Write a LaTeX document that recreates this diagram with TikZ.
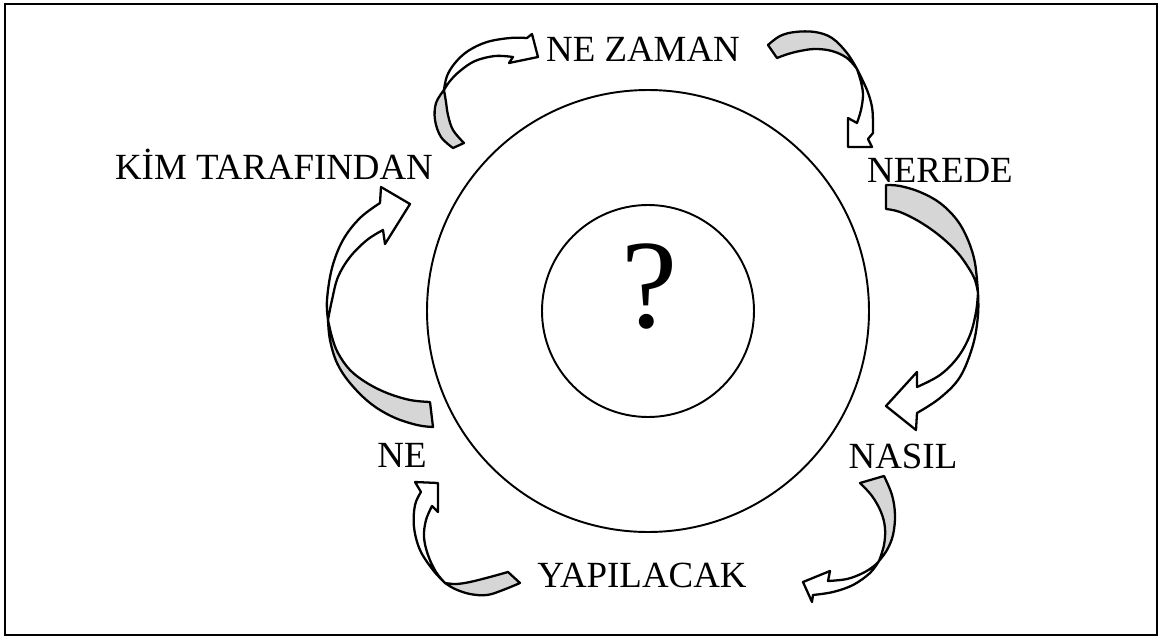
\documentclass[tikz,border=0pt]{standalone}
\usepackage{fontspec}
\setmainfont{Liberation Serif}
\begin{document}
\begin{tikzpicture}[x=0.02cm,y=-0.02cm,
  band/.style={draw=black, line width=1.3pt, line join=round, fill=black!16},
  front/.style={draw=black, line width=1.3pt, line join=round, fill=white},
  lbl/.style={font=\fontsize{21}{21}\selectfont, anchor=base, inner sep=0pt},
  ring/.style={draw=black, line width=1.1pt},
  sm/.style={smooth, tension=0.6}]
\useasboundingbox (0,0) rectangle (1161,639);
\draw[line width=1.4pt] (5,4) rectangle (1157,635);

% circles
\coordinate (c) at (648,311);
\draw[ring] (c) circle[radius=221];
\draw[ring] (c) circle[radius=106];
\node[inner sep=0pt, font=\fontsize{72}{72}\selectfont] (q) at (650,287) {?};

% labels
\node[lbl] (nezaman) at (643,61) {NE ZAMAN};
\node[lbl] (nerede) at (940,182) {NEREDE};
\node[lbl] (nasil) at (903,468) {NASIL};
\node[lbl] (yap) at (642,587) {YAPILACAK};
\node[lbl] (ne) at (402,467) {NE};
\node[lbl] (kim) at (274,179) {KİM TARAFINDAN};

% arrow 1: KIM -> NE ZAMAN
\path[band] plot[sm] coordinates {(453,148) (441,137) (435,120) (436,103) (444,90)}
  -- plot[sm] coordinates {(444,90) (446,102) (448,115) (453,130) (464,143)} -- cycle;
\path[front] plot[sm] coordinates {(444,90) (447,76) (455,63) (468,51) (487,42) (510,38) (527,38)}
  -- (532,34) -- (538,57) -- (509,63) -- (513,57)
  -- plot[sm] coordinates {(513,57) (495,56) (475,61) (460,71) (450,81) (444,90)} -- cycle;

% arrow 2: NE ZAMAN -> NEREDE
\path[band] plot[sm] coordinates {(768,45) (780,36) (795,32) (815,32) (832,38) (847,53) (857,69)}
  -- plot[sm] coordinates {(857,69) (847,58) (832,51) (815,49) (800,51) (788,54) (777,58)} -- cycle;
\path[front] plot[sm] coordinates {(857,69) (867,90) (872,107) (873,123) (873,133)}
  -- (868,139) -- (872,147) -- (848,147) -- (848,118) -- (857,123)
  -- plot[sm] coordinates {(857,123) (861,110) (863,95) (861,82) (857,69)} -- cycle;

% arrow 3: NEREDE -> NASIL
\path[band] plot[sm] coordinates {(886,185) (900,186) (920,192) (940,203) (957,220) (968,240) (975,263) (978,293)}
  -- plot[sm] coordinates {(978,293) (975,280) (968,267) (957,252) (940,236) (920,222) (900,212) (886,209)} -- cycle;
\path[front] plot[sm] coordinates {(978,293) (978,315) (973,345) (960,377) (940,398) (917,413)}
  -- (916,430) -- (886,406) -- (917,372) -- (917,387)
  -- plot[sm] coordinates {(917,387) (940,375) (958,357) (970,335) (976,312) (978,293)} -- cycle;

% arrow 4: NASIL -> YAPILACAK
\path[band] plot[sm] coordinates {(884,476) (892,495) (895,515) (893,535) (887,550) (879,561)}
  -- plot[sm] coordinates {(879,561) (884,545) (885,528) (881,512) (872,496) (860,483)} -- cycle;
\path[front] plot[sm] coordinates {(879,561) (870,573) (853,585) (833,592) (813,595)}
  -- (812,602) -- (803,582) -- (830,571) -- (828,581)
  -- plot[sm] coordinates {(828,581) (847,579) (863,573) (874,566) (879,561)} -- cycle;

% arrow 5: YAPILACAK -> NE
\path[band] plot[sm] coordinates {(520,583) (503,590) (487,595) (470,594) (455,589) (445,583)}
  -- plot[sm] coordinates {(445,583) (456,584) (470,582) (490,577) (508,572)} -- cycle;
\path[front] plot[sm] coordinates {(445,583) (433,570) (420,550) (414,527) (415,505) (421,492)}
  -- (415,482) -- (438,483) -- (438,512) -- (432,506)
  -- plot[sm] coordinates {(432,506) (426,520) (424,537) (428,555) (436,572) (445,583)} -- cycle;

% arrow 6: NE -> KIM TARAFINDAN
\path[band] plot[sm] coordinates {(433,427) (417,425) (393,417) (370,403) (350,383) (337,363) (330,340) (328,320)}
  -- plot[sm] coordinates {(328,320) (332,337) (338,353) (350,370) (367,383) (387,393) (410,400) (430,402)} -- cycle;
\path[front] plot[sm] coordinates {(328,320) (327,300) (332,268) (343,240) (360,218) (380,203)}
  -- (381,187) -- (410,204) -- (385,244) -- (383,230)
  -- plot[sm] coordinates {(383,230) (367,240) (350,257) (338,277) (332,300) (328,320)} -- cycle;
\end{tikzpicture}
\end{document}
